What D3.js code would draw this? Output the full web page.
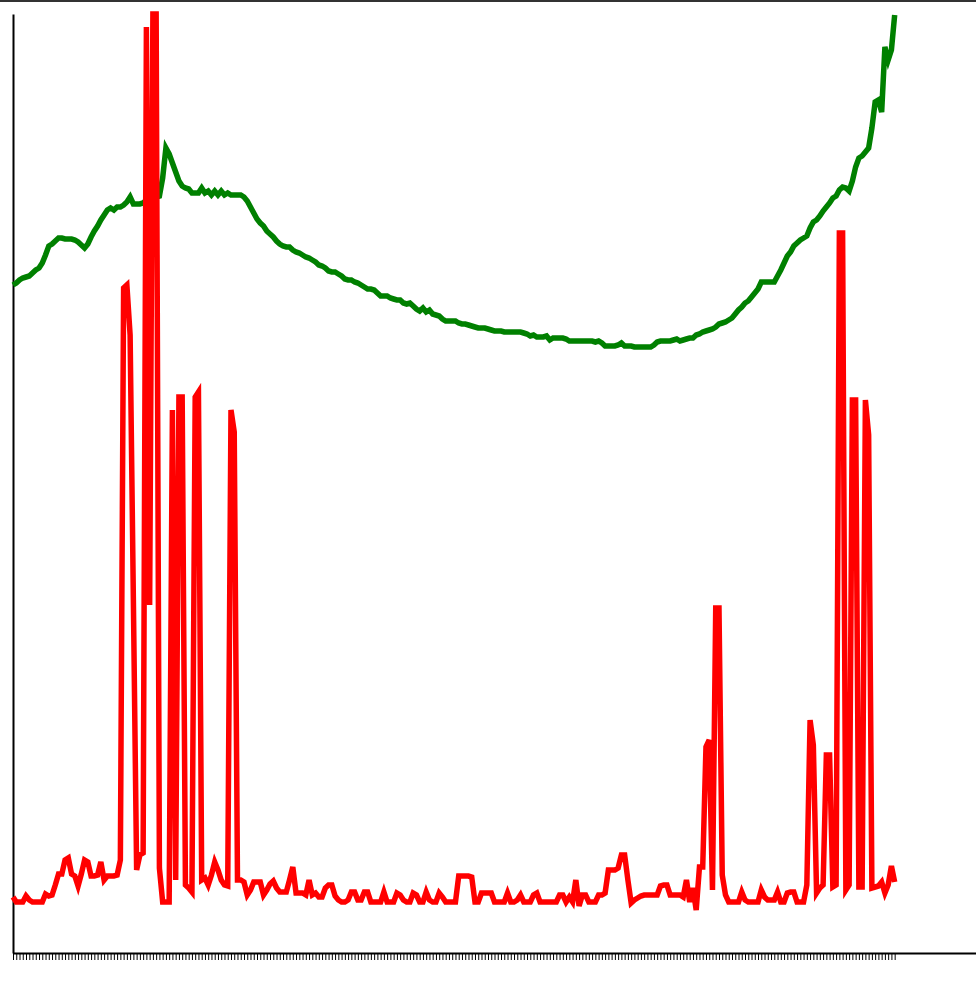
<!DOCTYPE html>
<html>
<head>
<meta charset="utf-8">
<script src="https://cdn.jsdelivr.net/npm/d3@7"></script>
<style>
  body { margin: 0; background: #fff; }
  svg { display: block; }
  .axis path { stroke: #000; stroke-width: 2px; }
  .axis line { stroke: #000; }
  .line { fill: none; stroke-width: 5.5px; }
</style>
</head>
<body>
<div id="chart"></div>
<script>
// green series (one value per tick)
var greenValues = [
  668,670,673,675,676,677,680,683,685,690,698,707,709,712,715,715,714,714,714,713,
  711,708,705,709,716,722,727,733,738,743,745,743,746,746,748,751,756,749,749,749,
  750,753,754,755,756,757,775,805,799,790,781,772,767,765,764,760,760,760,765,760,
  762,758,762,758,762,758,760,758,758,758,758,756,752,746,740,734,730,727,722,719,
  716,712,709,707,706,706,703,701,700,698,696,695,693,691,688,687,685,682,681,681,
  679,677,674,673,673,671,670,668,666,664,664,663,660,657,657,657,655,654,653,653,
  650,649,650,647,644,642,645,641,643,639,638,637,634,632,632,632,632,630,629,629,
  628,627,626,625,625,625,624,623,622,622,622,621,621,621,621,621,621,620,619,617,
  618,616,616,616,617,613,615,615,615,615,614,612,612,612,612,612,612,612,612,611,
  612,610,607,607,607,607,608,610,607,607,607,606,606,606,606,606,606,608,611,612,
  612,612,612,613,614,612,613,614,615,615,618,619,621,622,623,624,626,629,630,631,
  633,635,639,643,646,650,652,656,660,664,671,671,671,671,671,677,683,690,697,701,
  707,710,713,715,717,725,731,733,737,742,746,750,755,757,763,766,765,762,772,786,
  795,797,801,805,825,851,853,841,906,893,903,938
];

// red series
var redValues = [
  56,51,51,51,57,53,51,51,51,51,59,57,58,68,79,79,93,95,79,77,
  67,79,93,91,77,77,78,91,73,77,77,77,78,93,665,668,618,353,83,98,
  100,926,348,939,939,85,51,51,51,543,73,556,556,68,65,61,556,561,73,75,
  68,78,91,83,73,68,67,543,521,73,73,71,58,63,71,71,71,58,63,69,
  72,65,61,61,61,73,86,60,60,60,58,73,58,60,56,56,65,68,68,57,
  53,51,51,53,61,61,53,53,61,61,51,51,51,51,61,51,51,51,60,58,
  53,51,51,60,58,51,51,61,53,51,51,60,56,51,51,51,51,77,77,77,
  77,76,51,51,60,60,60,60,51,51,51,51,60,51,51,53,58,51,51,51,
  58,60,51,51,51,51,51,51,58,58,51,56,51,73,47,58,58,51,51,51,
  58,58,60,83,83,83,85,98,98,73,50,53,55,57,58,58,58,58,58,67,
  68,68,58,58,58,58,56,73,51,65,43,86,86,206,213,63,345,345,78,58,
  51,51,51,51,61,53,51,51,51,51,63,56,53,53,53,61,51,51,60,61,
  61,51,51,51,68,233,208,60,65,68,198,198,66,68,720,720,63,68,553,553,
  66,66,553,518,65,66,67,71,60,68,87,71
];

var ticks = d3.range(greenValues.length);
var axisExtent = 296;   // x axis runs past the last tick
var yMax = 939;

var totalWidth = 976, totalHeight = 986;
var margin = {top: 14, right: 0, bottom: 33, left: 13};
var width = totalWidth - margin.left - margin.right;
var height = totalHeight - margin.top - margin.bottom;

var svg = d3.select("#chart").append("svg")
    .attr("width", totalWidth)
    .attr("height", totalHeight);

// dark strip along the top edge
svg.append("rect")
    .attr("x", 0).attr("y", 0)
    .attr("width", totalWidth).attr("height", 2)
    .attr("fill", "#333");

var g = svg.append("g")
    .attr("transform", "translate(" + margin.left + "," + margin.top + ")");

var x = d3.scaleLinear().domain([0, axisExtent]).range([0, width]);
var y = d3.scaleLinear().domain([0, yMax]).range([height, 0]);

var xAxis = d3.axisBottom(x)
    .tickValues(ticks)
    .tickFormat("")
    .tickSize(7)
    .tickSizeOuter(0);

var yAxis = d3.axisLeft(y)
    .tickValues([])
    .tickSizeOuter(0);

g.append("g")
    .attr("class", "axis axis--x")
    .attr("transform", "translate(0," + height + ")")
    .call(xAxis);

g.append("g")
    .attr("class", "axis axis--y")
    .call(yAxis);

var line = d3.line()
    .x(function(d, i){ return x(i); })
    .y(function(d){ return y(d); });

g.append("path")
    .datum(greenValues)
    .attr("class", "line")
    .attr("stroke", "green")
    .attr("d", line);

g.append("path")
    .datum(redValues)
    .attr("class", "line")
    .attr("stroke", "red")
    .attr("d", line);
</script>
</body>
</html>
